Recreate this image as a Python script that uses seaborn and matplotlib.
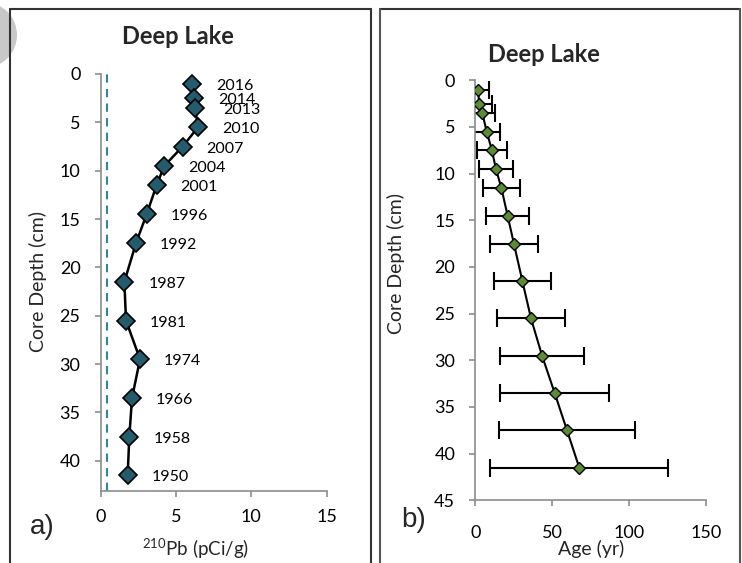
import numpy as np
import pandas as pd
import matplotlib
matplotlib.use("Agg")
import matplotlib.pyplot as plt
import seaborn as sns
from matplotlib.patches import Ellipse
from matplotlib.lines import Line2D

# ---- data ----
depth = [1, 2.5, 3.5, 5.5, 7.5, 9.5, 11.5, 14.5, 17.5, 21.5, 25.5, 29.5, 33.5, 37.5, 41.5]
pb210 = [6.08, 6.2, 6.26, 6.46, 5.44, 4.22, 3.71, 3.05, 2.34, 1.57, 1.68, 2.61, 2.08, 1.9, 1.79]
years = ["2016", "2014", "2013", "2010", "2007", "2004", "2001", "1996", "1992",
         "1987", "1981", "1974", "1966", "1958", "1950"]
age = [1.7, 2.6, 4.55, 7.4, 10.8, 13.4, 16.9, 21.0, 25.1, 30.6, 36.2, 43.4, 51.6, 59.6, 67.6]
age_err = [7, 8, 8, 8.5, 10, 11, 12, 14, 15.5, 18.5, 22, 27.5, 35.5, 44.5, 58]
supported = 0.4
title = "Deep Lake"
xticks_a = [0, 5, 10, 15]
yticks_a = [0, 5, 10, 15, 20, 25, 30, 35, 40]
xticks_b = [0, 50, 100, 150]
yticks_b = [0, 5, 10, 15, 20, 25, 30, 35, 40, 45]

df = pd.DataFrame({"depth": depth, "pb": pb210, "age": age, "err": age_err, "year": years})

sns.set_theme(style="white")
plt.rcParams["font.family"] = ["Lato", "DejaVu Sans"]
plt.rcParams["mathtext.fontset"] = "custom"
plt.rcParams["mathtext.rm"] = "Lato"

W, H = 742, 563
fig = plt.figure(figsize=(W / 100, H / 100), dpi=100)
fig.patch.set_facecolor("white")

# decorative grey circle at top-left
fig.add_artist(Ellipse((-16 / W, 1 - 35 / H), 66 / W, 66 / H, transform=fig.transFigure,
                       facecolor="#C8C8C8", edgecolor="none", zorder=0))

def frac(x0, x1, y0, y1):
    return [x0 / W, 1 - y1 / H, (x1 - x0) / W, (y1 - y0) / H]

def ftext(x, y, s, **kw):
    return fig.text(x / W, 1 - y / H, s, **kw)

axA = fig.add_axes(frac(100.7, 326.7, 74, 490.7))
axB = fig.add_axes(frac(475.3, 706, 80.3, 500.3))

spine_col = "#8C8C8C"
for ax, xpad in ((axA, 9), (axB, 13)):
    ax.set_facecolor("none")
    for s in ("top", "right"):
        ax.spines[s].set_visible(False)
    for s in ("left", "bottom"):
        ax.spines[s].set_color(spine_col)
        ax.spines[s].set_linewidth(1.2)
    ax.tick_params(axis="both", which="major", direction="out", length=4.5, width=1.2,
                   color=spine_col, labelsize=13, labelcolor="black",
                   left=True, bottom=True)
    ax.tick_params(axis="y", pad=10)
    ax.tick_params(axis="x", pad=xpad)
    ax.grid(False)

# ---- panel a ----
axA.axvline(supported, color="#31859C", lw=1.5, ls=(0, (4, 3)), zorder=1)
sns.lineplot(data=df, x="pb", y="depth", sort=False, ax=axA, color="black", lw=1.8,
             marker="D", markersize=9, markerfacecolor="#245C6E", markeredgecolor="black",
             markeredgewidth=1.2, zorder=3)
for x, y, t in zip(pb210, depth, years):
    dx = 28 if t == "2013" else 24
    axA.annotate(t, (x, y), xytext=(dx, -2), textcoords="offset pixels",
                 ha="left", va="center", fontsize=11.5, color="black")
axA.set_xlim(0, 15)
axA.set_ylim(43.1, 0)
axA.set_xticks(xticks_a)
axA.set_yticks(yticks_a)
axA.set_xlabel("")
axA.set_ylabel("")
ftext(196, 549, r"$\mathregular{^{210}}$Pb (pCi/g)", ha="center", va="center", fontsize=13.5)
ftext(38, 281, "Core Depth (cm)", ha="center", va="center", rotation=90, fontsize=14)
ftext(177.5, 37, title, ha="center", va="center", fontsize=17, fontweight="bold")
ftext(30, 527, "a)", ha="left", va="center", fontsize=20, family="Liberation Sans")

# ---- panel b ----
axB.errorbar(age, depth, xerr=age_err, fmt="none", ecolor="black", elinewidth=1.5,
             capsize=6.5, capthick=1.5, zorder=2)
sns.lineplot(data=df, x="age", y="depth", sort=False, ax=axB, color="black", lw=1.5,
             marker="D", markersize=6.5, markerfacecolor="#5B8C33", markeredgecolor="black",
             markeredgewidth=1.0, zorder=3)
axB.set_xlim(0, 150)
axB.set_ylim(45, 0)
axB.set_xticks(xticks_b)
axB.set_yticks(yticks_b)
axB.set_xlabel("")
axB.set_ylabel("")
ftext(591, 549, "Age (yr)", ha="center", va="center", fontsize=14)
ftext(396, 263, "Core Depth (cm)", ha="center", va="center", rotation=90, fontsize=14)
ftext(544, 54, title, ha="center", va="center", fontsize=17, fontweight="bold")
ftext(401, 520, "b)", ha="left", va="center", fontsize=20, family="Liberation Sans")

# ---- panel frames ----
def vline(x, y0, y1, col):
    fig.add_artist(Line2D([x / W, x / W], [1 - y0 / H, 1 - y1 / H], color=col, lw=1.5,
                          transform=fig.transFigure))
def hline(y, x0, x1, col):
    fig.add_artist(Line2D([x0 / W, x1 / W], [1 - y / H, 1 - y / H], color=col, lw=1.5,
                          transform=fig.transFigure))

hline(8.7, 10, 370.7, "#333333")
vline(10, 8.7, 570, "#333333")
vline(370.7, 8.7, 570, "#333333")
hline(8.7, 380, 740, "#333333")
vline(380, 8.7, 570, "#555555")
vline(740, 8.7, 570, "#555555")

fig.savefig("out.png", dpi=100)
